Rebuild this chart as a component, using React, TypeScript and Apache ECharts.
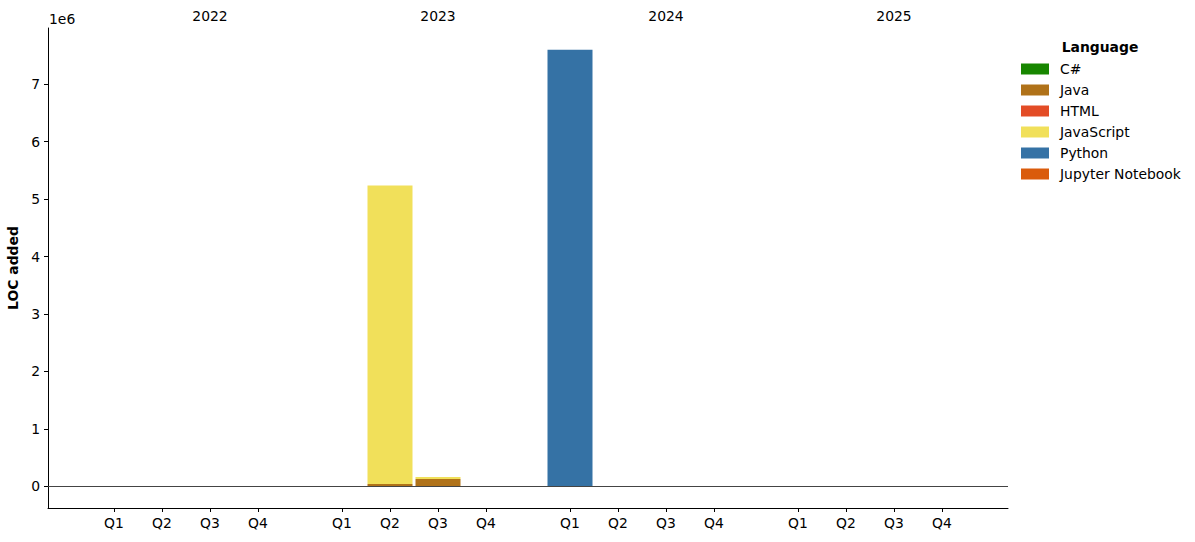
import React, { useEffect, useRef } from "react";
import * as echarts from "echarts";

const years = ["2022", "2023", "2024", "2025"];
const quarters = ["Q1", "Q2", "Q3", "Q4"];
// slot index (quarter-bar-width units) of each quarter on an 80-slot axis; years separated by an extra gap
const quarterSlots = [5, 9, 13, 17, 24, 28, 32, 36, 43, 47, 51, 55, 62, 66, 70, 74];
const quarterLabels = quarterSlots.map((_, i) => quarters[i % 4]);
const yearSlots = [13, 32, 51, 70];
const SLOT_COUNT = 80;

const languages = ["C#", "Java", "HTML", "JavaScript", "Python", "Jupyter Notebook"];
const colors = ["#178600", "#b07219", "#e34c26", "#f1e05a", "#3572A5", "#DA5B0B"];

const csharp = [0, 0, 0, 0, 0, 0, 0, 0, 0, 0, 0, 0, 0, 0, 0, 0];
const java = [0, 0, 0, 0, 0, 40000, 125000, 0, 0, 0, 0, 0, 0, 0, 0, 0];
const html = [0, 0, 0, 0, 0, 0, 0, 0, 0, 0, 0, 0, 0, 0, 0, 0];
const javascript = [0, 0, 0, 0, 0, 5196000, 35000, 0, 0, 0, 0, 0, 0, 0, 0, 0];
const python = [0, 0, 0, 0, 0, 0, 0, 0, 7600000, 0, 0, 0, 0, 0, 0, 0];
const jupyter = [0, 0, 0, 0, 0, 0, 0, 0, 0, 0, 0, 0, 0, 0, 0, 0];
const seriesValues = [csharp, java, html, javascript, python, jupyter];

const yTicks = [0, 1e6, 2e6, 3e6, 4e6, 5e6, 6e6, 7e6];

export default function App() {
  const ref = useRef<HTMLDivElement>(null);
  useEffect(() => {
    if (!ref.current) return;
    const chart = echarts.init(ref.current, null, { renderer: "svg" });
    const font = "DejaVu Sans";
    const fs = 13.9;
    const bottomCats: string[] = Array.from({ length: SLOT_COUNT }, (_, k) => {
      const i = quarterSlots.indexOf(k);
      return i >= 0 ? quarterLabels[i] : "s" + k;
    });
    const topCats: string[] = Array.from({ length: SLOT_COUNT }, (_, k) => {
      const i = yearSlots.indexOf(k);
      return i >= 0 ? years[i] : "t" + k;
    });
    const series: any[] = languages.map((name, si) => {
      const data: any[] = Array.from({ length: SLOT_COUNT }, () => null);
      quarterSlots.forEach((k, i) => {
        data[k] = seriesValues[si][i];
      });
      return {
        name,
        type: "bar",
        stack: "total",
        barWidth: 45,
        itemStyle: { color: colors[si] },
        data,
        ...(si === languages.length - 1
          ? {
              markLine: {
                silent: true,
                symbol: "none",
                label: { show: false },
                lineStyle: { color: "#444", width: 1, type: "solid" },
                data: [{ yAxis: 0 }],
              },
            }
          : {}),
      };
    });
    chart.setOption({
      animation: false,
      textStyle: { fontFamily: font },
      grid: {
        left: 48,
        right: 187,
        top: 28,
        bottom: 34,
        containLabel: false,
        outerBoundsMode: "none",
      },
      xAxis: [
        {
          type: "category",
          data: bottomCats,
          boundaryGap: true,
          splitLine: { show: false },
          axisLine: { show: true, onZero: false, lineStyle: { color: "#000", width: 1 } },
          axisTick: {
            show: true,
            length: 4,
            alignWithLabel: true,
            lineStyle: { color: "#000" },
            interval: (idx: number) => quarterSlots.indexOf(idx) >= 0,
          },
          axisLabel: {
            show: true,
            color: "#000",
            fontSize: fs,
            fontFamily: font,
            margin: 8,
            interval: (idx: number) => quarterSlots.indexOf(idx) >= 0,
          },
        },
        {
          type: "category",
          data: topCats,
          position: "top",
          boundaryGap: true,
          splitLine: { show: false },
          axisLine: { show: false },
          axisTick: { show: false },
          axisLabel: {
            show: true,
            color: "#000",
            fontSize: fs,
            fontFamily: font,
            margin: 5,
            interval: (idx: number) => yearSlots.indexOf(idx) >= 0,
          },
        },
      ],
      yAxis: {
        type: "value",
        min: -380000,
        max: 7980000,
        splitLine: { show: false },
        axisLine: { show: true, onZero: false, lineStyle: { color: "#000", width: 1 } },
        axisTick: { show: true, length: 4, lineStyle: { color: "#000" }, customValues: yTicks },
        axisLabel: {
          color: "#000",
          fontSize: fs,
          fontFamily: font,
          margin: 8,
          customValues: yTicks,
          formatter: (v: number) => String(Math.round(v / 1e6)),
        },
        name: "LOC added",
        nameLocation: "middle",
        nameGap: 25,
        nameTextStyle: { color: "#000", fontSize: fs, fontWeight: "bold", fontFamily: font },
      },
      legend: {
        orient: "vertical",
        left: 1021,
        top: 62,
        padding: 0,
        itemWidth: 28,
        itemHeight: 11,
        itemGap: 7,
        icon: "rect",
        data: languages,
        textStyle: { color: "#000", fontSize: fs, fontFamily: font, padding: [0, 0, 0, 6] },
      },
      graphic: [
        {
          type: "text",
          left: 49,
          top: 12,
          style: { text: "1e6", fill: "#000", font: `${fs}px ${font}` },
        },
        {
          type: "text",
          x: 1100,
          y: 47,
          style: {
            text: "Language",
            fill: "#000",
            font: `bold ${fs}px ${font}`,
            textAlign: "center",
            textVerticalAlign: "middle",
          },
        },
      ],
      series,
    });
    return () => chart.dispose();
  }, []);
  return (
    <div
      ref={ref}
      style={{ position: "fixed", left: 0, top: 0, width: 1195, height: 542, background: "#fff" }}
    />
  );
}
